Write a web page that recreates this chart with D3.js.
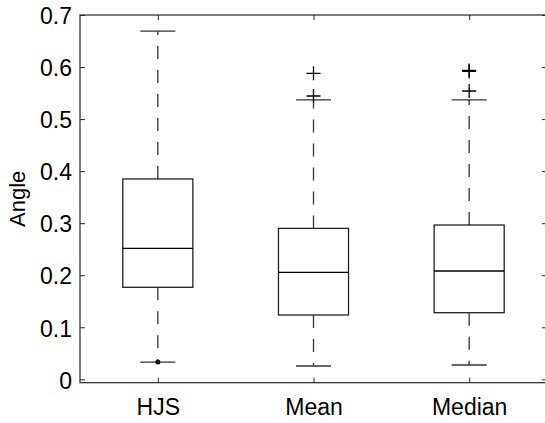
<!DOCTYPE html>
<html>
<head>
<meta charset="utf-8">
<script src="https://cdn.jsdelivr.net/npm/d3@7"></script>
<style>
  html, body { margin: 0; padding: 0; background: #fff; }
  svg { display: block; }
  text { font-family: "Liberation Sans", Arial, sans-serif; fill: #000; }
</style>
</head>
<body>
<svg id="chart" width="545" height="423"></svg>
<script>
// Box-plot statistics per method
const categories   = ["HJS", "Mean", "Median"];
const upperWhisker = [0.669, 0.537, 0.537];
const q3           = [0.385, 0.290, 0.2965];
const medians      = [0.2517, 0.2056, 0.2081];
const q1           = [0.1768, 0.1236, 0.128];
const lowerWhisker = [0.0332, 0.0256, 0.0275];
const outliers     = [[], [0.5444, 0.588], [0.554, 0.5915, 0.5935]];
const lowDots      = [[0.0332], [], []];
const yTicks       = [0, 0.1, 0.2, 0.3, 0.4, 0.5, 0.6, 0.7];
const yTickLabels  = ["0", "0.1", "0.2", "0.3", "0.4", "0.5", "0.6", "0.7"];

const svg = d3.select("#chart");
const plotLeft = 80, plotRight = 547, plotTop = 15, plotBottom = 382.7;

const x = d3.scaleLinear().domain([0.5, 3.5]).range([plotLeft, plotRight]);
const y = d3.scaleLinear().domain([-0.0065, 0.7]).range([plotBottom, plotTop]);

const boxHalf = 0.225, capHalf = 0.1125;
const ink = "#000";

// Axes frame
svg.append("rect")
  .attr("x", plotLeft).attr("y", plotTop)
  .attr("width", plotRight - plotLeft).attr("height", plotBottom - plotTop)
  .attr("fill", "none").attr("stroke", "#262626").attr("stroke-width", 1.2);

// Y axis (left) with inward ticks, mirrored on the right
const yAxis = d3.axisLeft(y).tickValues(yTicks)
  .tickFormat((d, i) => yTickLabels[i]).tickSizeInner(-5).tickSizeOuter(0).tickPadding(8);
const gy = svg.append("g").attr("transform", `translate(${plotLeft},0)`).call(yAxis);
gy.select(".domain").remove();
gy.selectAll("line").attr("stroke", "#262626");
gy.selectAll("text").style("font-size", "23px").attr("dy", "0.38em");

const gyR = svg.append("g").attr("transform", `translate(${plotRight},0)`)
  .call(d3.axisRight(y).tickValues(yTicks).tickSizeInner(-5).tickSizeOuter(0).tickFormat(""));
gyR.select(".domain").remove();
gyR.selectAll("line").attr("stroke", "#262626");

// X axis (bottom) with category labels, mirrored on top
const xAxis = d3.axisBottom(x).tickValues([1, 2, 3])
  .tickFormat((d, i) => categories[i]).tickSizeInner(-5).tickSizeOuter(0).tickPadding(16);
const gx = svg.append("g").attr("transform", `translate(0,${plotBottom})`).call(xAxis);
gx.select(".domain").remove();
gx.selectAll("line").attr("stroke", "#262626");
gx.selectAll("text").style("font-size", "23px");

const gxT = svg.append("g").attr("transform", `translate(0,${plotTop})`)
  .call(d3.axisTop(x).tickValues([1, 2, 3]).tickSizeInner(-5).tickSizeOuter(0).tickFormat(""));
gxT.select(".domain").remove();
gxT.selectAll("line").attr("stroke", "#262626");

// Y axis title
svg.append("text")
  .attr("transform", `translate(25,${(plotTop + plotBottom) / 2}) rotate(-90)`)
  .attr("text-anchor", "middle")
  .style("font-size", "22px")
  .text("Angle");

// Boxes
const plot = svg.append("g");
categories.forEach((c, i) => {
  const cx = i + 1;
  const g = plot.append("g");
  // whiskers (dashed)
  g.append("line")
    .attr("x1", x(cx)).attr("x2", x(cx))
    .attr("y1", y(q3[i])).attr("y2", y(upperWhisker[i]))
    .attr("stroke", "#333").attr("stroke-width", 1.3).attr("stroke-dasharray", "13,11");
  g.append("line")
    .attr("x1", x(cx)).attr("x2", x(cx))
    .attr("y1", y(q1[i])).attr("y2", y(lowerWhisker[i]))
    .attr("stroke", "#333").attr("stroke-width", 1.3).attr("stroke-dasharray", "13,11");
  // caps
  [upperWhisker[i], lowerWhisker[i]].forEach(v => {
    g.append("line")
      .attr("x1", x(cx - capHalf)).attr("x2", x(cx + capHalf))
      .attr("y1", y(v)).attr("y2", y(v))
      .attr("stroke", "#333").attr("stroke-width", 1.3);
  });
  // box
  g.append("rect")
    .attr("x", x(cx - boxHalf)).attr("y", y(q3[i]))
    .attr("width", x(cx + boxHalf) - x(cx - boxHalf))
    .attr("height", y(q1[i]) - y(q3[i]))
    .attr("fill", "none").attr("stroke", "#222").attr("stroke-width", 1.3);
  // median
  g.append("line")
    .attr("x1", x(cx - boxHalf)).attr("x2", x(cx + boxHalf))
    .attr("y1", y(medians[i])).attr("y2", y(medians[i]))
    .attr("stroke", ink).attr("stroke-width", 1.3);
  // outliers (+)
  outliers[i].forEach(v => {
    const px = x(cx), py = y(v);
    g.append("path")
      .attr("d", `M${px - 7},${py}H${px + 7}M${px},${py - 7}V${py + 7}`)
      .attr("stroke", ink).attr("stroke-width", 1.3).attr("fill", "none");
  });
  lowDots[i].forEach(v => {
    g.append("circle").attr("cx", x(cx)).attr("cy", y(v)).attr("r", 2.5).attr("fill", ink);
  });
});
</script>
</body>
</html>
